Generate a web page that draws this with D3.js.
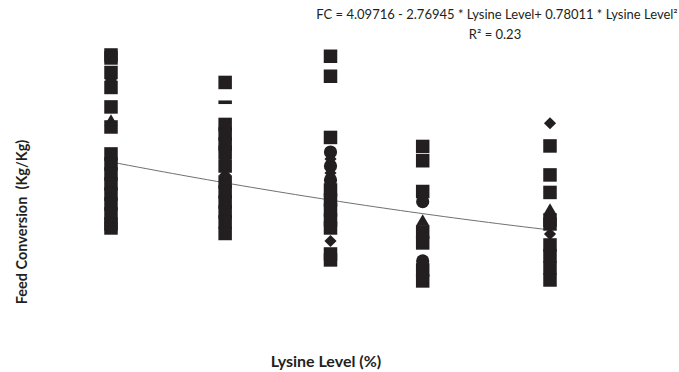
<!DOCTYPE html>
<html>
<head>
<meta charset="utf-8">
<script src="https://cdn.jsdelivr.net/npm/d3@7"></script>
<style>
  body { margin: 0; background: #fff; }
  text { font-family: Lato, "Open Sans", sans-serif; fill: #231f20; white-space: pre; }
</style>
</head>
<body>
<div id="chart"></div>
<script>
// lysine levels (%) for the five diets
const levels = [0.50, 0.63, 0.75, 0.855, 1.00];

// feed conversion observations per level, grouped by marker shape
const squareFC = [
  [4.166, 4.131, 3.960, 3.784, 3.555, 3.319, 3.002, 2.884, 2.766, 2.649, 2.531, 2.413, 2.296, 2.178, 2.131],
  [3.843, 3.349, 3.237, 3.119, 3.019, 2.860, 2.672, 2.555, 2.437, 2.319, 2.202, 2.066],
  [4.151, 3.916, 3.196, 2.578, 2.460, 2.343, 2.225, 2.131, 1.825, 1.755],
  [3.090, 2.922, 2.560, 2.084, 1.955, 1.637, 1.508],
  [3.096, 2.755, 2.549, 2.225, 2.178, 1.931, 1.802, 1.661, 1.519]
];
const diamondFC = [[3.872], [2.943, 2.755], [2.943, 2.778, 1.978], [], [3.363, 2.060]];
const triangleFC = [[3.378], [], [], [2.202], [2.331]];
const circleFC = [[], [], [3.025, 2.860, 2.696], [2.440, 1.743], []];
const dashFC = [[], [3.610], [], [], []];

// fitted quadratic
const coef = [4.09716, -2.76945, 0.78011];
const equation = "FC = 4.09716 - 2.76945 * Lysine Level+ 0.78011 * Lysine Level\u00b2";
const r2Label = "R\u00b2 = 0.23";
const xTitle = "Lysine Level (%)";
const yTitle = "Feed Conversion  (Kg/Kg)";

const width = 679, height = 372;
const ink = "#231f20";

const svg = d3.select("#chart").append("svg")
  .attr("width", width)
  .attr("height", height);

const x = d3.scaleLinear().domain([0.5, 1.0]).range([111, 550]);
const y = d3.scaleLinear().domain([1.5, 4.2]).range([281.6, 52.1]);

// fit line (behind markers)
const fit = L => coef[0] + coef[1] * L + coef[2] * L * L;
const lx = d3.range(levels[0], levels[levels.length - 1] + 1e-9, 0.01);
svg.append("path")
  .datum(lx)
  .attr("fill", "none")
  .attr("stroke", "#707070")
  .attr("stroke-width", 1)
  .attr("d", d3.line().x(d => x(d)).y(d => y(fit(d))));

// flatten a group of arrays into points
function pts(groups) {
  const out = [];
  groups.forEach((g, i) => g.forEach(v => out.push({ L: levels[i], fc: v })));
  return out;
}

const marks = svg.append("g").attr("fill", ink);

marks.selectAll(".sq").data(pts(squareFC)).enter().append("rect")
  .attr("class", "sq")
  .attr("x", d => x(d.L) - 6.75)
  .attr("y", d => y(d.fc) - 6.75)
  .attr("width", 13.5)
  .attr("height", 13.5);

marks.selectAll(".ci").data(pts(circleFC)).enter().append("circle")
  .attr("class", "ci")
  .attr("cx", d => x(d.L))
  .attr("cy", d => y(d.fc))
  .attr("r", 6.6);

marks.selectAll(".di").data(pts(diamondFC)).enter().append("path")
  .attr("class", "di")
  .attr("d", d3.symbol(d3.symbolSquare, 74))
  .attr("transform", d => "translate(" + x(d.L) + "," + y(d.fc) + ") rotate(45)");

marks.selectAll(".tr").data(pts(triangleFC)).enter().append("path")
  .attr("class", "tr")
  .attr("d", d3.symbol(d3.symbolTriangle, 78))
  .attr("transform", d => "translate(" + x(d.L) + "," + y(d.fc) + ")");

marks.selectAll(".da").data(pts(dashFC)).enter().append("rect")
  .attr("class", "da")
  .attr("x", d => x(d.L) - 6.75)
  .attr("y", d => y(d.fc) - 1.8)
  .attr("width", 13.5)
  .attr("height", 3.6);

// equation
svg.append("text")
  .attr("x", 497).attr("y", 19)
  .attr("text-anchor", "middle")
  .style("font-size", "13px")
  .text(equation);
svg.append("text")
  .attr("x", 495).attr("y", 39)
  .attr("text-anchor", "middle")
  .style("font-size", "13px")
  .text(r2Label);

// axis titles
svg.append("text")
  .attr("x", 326).attr("y", 367)
  .attr("text-anchor", "middle")
  .style("font-size", "16px")
  .style("font-weight", "bold")
  .text(xTitle);
svg.append("text")
  .attr("transform", "translate(27,222) rotate(-90)")
  .attr("text-anchor", "middle")
  .style("font-size", "14.5px")
  .style("font-weight", "bold")
  .text(yTitle);
</script>
</body>
</html>
